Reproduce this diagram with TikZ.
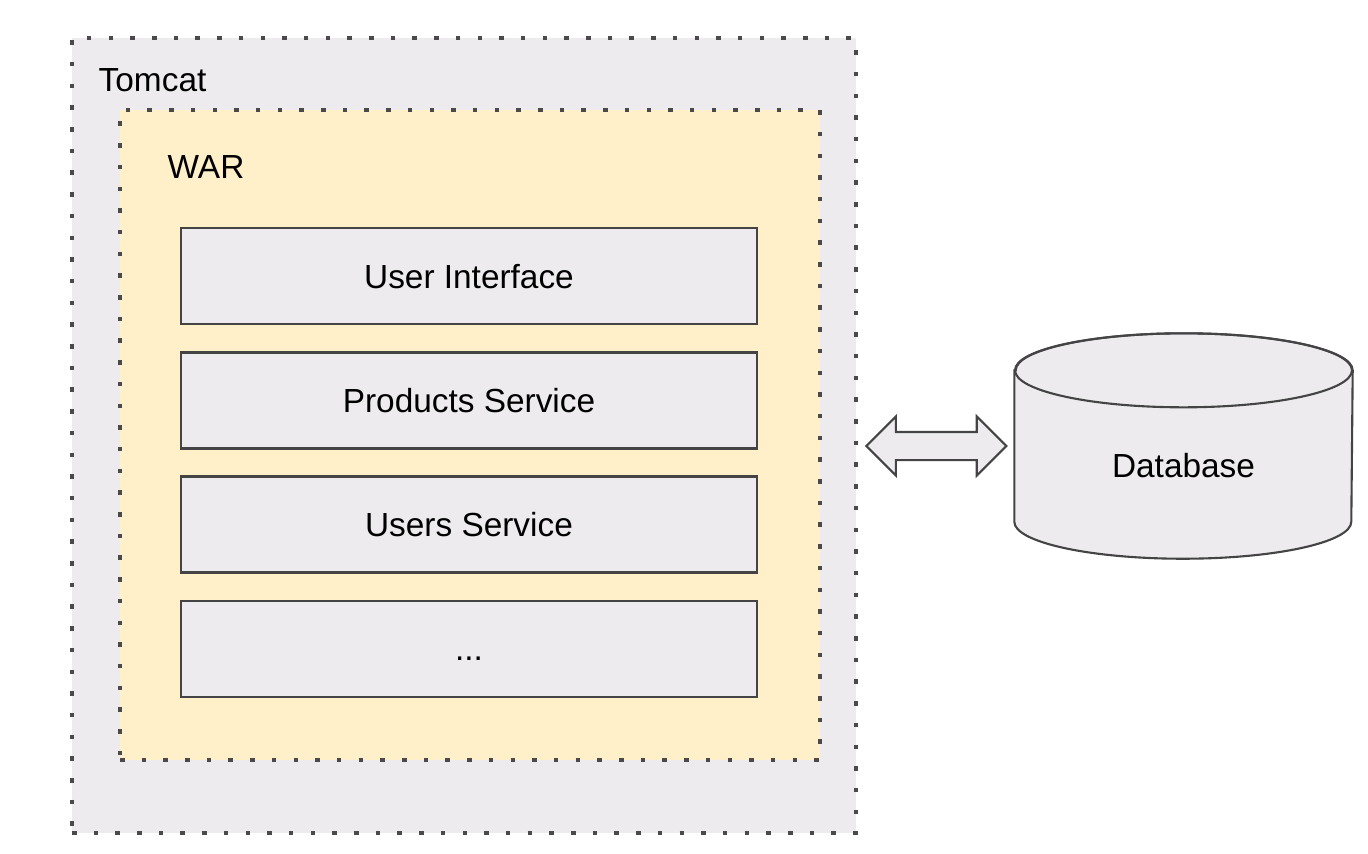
\documentclass[tikz,border=0pt]{standalone}
\usepackage{fontspec}
\setmainfont{Liberation Sans}
\usetikzlibrary{positioning,calc,shapes.arrows}
\definecolor{boxgray}{HTML}{EDEBEE}
\definecolor{warfill}{HTML}{FFF0CA}
\definecolor{dotgray}{HTML}{4A4A4A}
\definecolor{edgegray}{HTML}{444444}

\begin{document}
\begin{tikzpicture}[font=\fontsize{9.5}{11}\selectfont]
\tikzset{
  container/.style={draw=dotgray,line width=0.045cm,dash pattern=on 0.045cm off 0.172cm,inner sep=0},
  layer/.style={draw=edgegray,fill=boxgray,line width=0.8pt,minimum width=5.76cm,minimum height=0.96cm,inner sep=0,
    text height=0.24cm,text depth=0pt},
  link/.style={double arrow,draw=edgegray,fill=boxgray,line width=0.6pt,double arrow tip angle=90,
    double arrow head extend=0.155cm,inner xsep=0,inner ysep=0.13cm,minimum height=1.4cm}
}
\useasboundingbox[fill=white] (0,0) rectangle (13.68,-8.53);
\node[container,fill=boxgray,minimum width=7.84cm,minimum height=7.95cm] (tomcat) at (4.64,-4.355) {};
\node[container,fill=warfill,minimum width=7cm,minimum height=6.5cm] (war) at (4.70,-4.35) {};
\node[anchor=base west,inner sep=0] (tomcatlbl) at (0.98,-0.91) {Tomcat};
\node[anchor=base west,inner sep=0] (warlbl) at (1.67,-1.78) {WAR};

\node[layer] (ui) at (4.69,-2.76) {User Interface};
\node[layer,below=0.255cm of ui] (products) {Products Service};
\node[layer,below=0.255cm of products] (users) {Users Service};
\node[layer,below=0.255cm of users] (more) {...};

% database cylinder
\node[minimum width=3.37cm,minimum height=2.24cm,inner sep=0] (db) at (11.835,-4.46) {};
\draw[edgegray,fill=boxgray,line width=0.6pt] ($(db.north west)+(0,-0.37)$) -- ($(db.south west)+(0,0.37)$)
  arc[start angle=180,end angle=360,x radius=1.685cm,y radius=0.37cm]
  -- ($(db.north east)+(0,-0.37)$)
  arc[start angle=0,end angle=180,x radius=1.685cm,y radius=0.37cm] -- cycle;
\draw[edgegray,line width=0.6pt] ($(db.north)+(0,-0.37)$) ellipse[x radius=1.685cm,y radius=0.37cm];
\node (dblbl) at ($(db.center)+(0,-0.2)$) {Database};

\node[link] (arrow) at ($(tomcat.east |- db.west)!0.5!(db.west)$) {};
\end{tikzpicture}
\end{document}
